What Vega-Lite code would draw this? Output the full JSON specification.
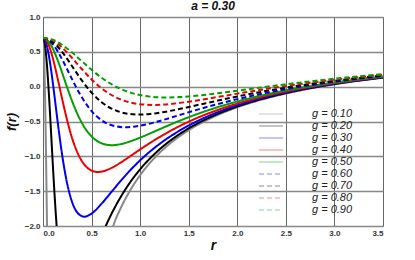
{
"$schema":"https://vega.github.io/schema/vega-lite/v6.json",
"width":340,"height":209,
"autosize":{"type":"none"},
"padding":{"left":43,"top":17,"right":32,"bottom":34},
"background":"white",
"title":{"text":"a  = 0.30","fontSize":12,"fontStyle":"italic","fontWeight":"bold","font":"Liberation Sans","offset":0,"frame":"group","color":"#111"},
"config":{"view":{"stroke":"#999","strokeWidth":1},"font":"Liberation Sans"},
"data":{"values":[
{"g":"g = 0.10","r":0,"f":0.7},{"g":"g = 0.10","r":0.0025,"f":0.6875},{"g":"g = 0.10","r":0.005,"f":0.65},{"g":"g = 0.10","r":0.01,"f":0.503},{"g":"g = 0.10","r":0.02,"f":-0.054},{"g":"g = 0.10","r":0.03,"f":-0.882},{"g":"g = 0.10","r":0.04,"f":-1.861},{"g":"g = 0.10","r":0.05,"f":-2.878},{"g":"g = 0.10","r":0.7,"f":-2.072},{"g":"g = 0.10","r":0.75,"f":-1.897},{"g":"g = 0.10","r":0.8,"f":-1.743},{"g":"g = 0.10","r":0.9,"f":-1.482},{"g":"g = 0.10","r":1.0,"f":-1.27},{"g":"g = 0.10","r":1.2,"f":-0.949},{"g":"g = 0.10","r":1.4,"f":-0.718},{"g":"g = 0.10","r":1.6,"f":-0.543},{"g":"g = 0.10","r":1.8,"f":-0.406},{"g":"g = 0.10","r":2.0,"f":-0.296},{"g":"g = 0.10","r":2.25,"f":-0.186},{"g":"g = 0.10","r":2.5,"f":-0.098},{"g":"g = 0.10","r":3.0,"f":0.034},{"g":"g = 0.10","r":3.5,"f":0.129},
{"g":"g = 0.20","r":0,"f":0.7},{"g":"g = 0.20","r":0.01,"f":0.675},{"g":"g = 0.20","r":0.02,"f":0.601},{"g":"g = 0.20","r":0.04,"f":0.323},{"g":"g = 0.20","r":0.06,"f":-0.091},{"g":"g = 0.20","r":0.08,"f":-0.581},{"g":"g = 0.20","r":0.1,"f":-1.089},{"g":"g = 0.20","r":0.12,"f":-1.57},{"g":"g = 0.20","r":0.14,"f":-1.994},{"g":"g = 0.20","r":0.16,"f":-2.347},{"g":"g = 0.20","r":0.6,"f":-2.146},{"g":"g = 0.20","r":0.65,"f":-1.987},{"g":"g = 0.20","r":0.7,"f":-1.84},{"g":"g = 0.20","r":0.8,"f":-1.583},{"g":"g = 0.20","r":0.9,"f":-1.367},{"g":"g = 0.20","r":1.0,"f":-1.186},{"g":"g = 0.20","r":1.2,"f":-0.9},{"g":"g = 0.20","r":1.4,"f":-0.686},{"g":"g = 0.20","r":1.6,"f":-0.521},{"g":"g = 0.20","r":1.8,"f":-0.391},{"g":"g = 0.20","r":2.0,"f":-0.285},{"g":"g = 0.20","r":2.25,"f":-0.178},{"g":"g = 0.20","r":2.5,"f":-0.092},{"g":"g = 0.20","r":3.0,"f":0.038},{"g":"g = 0.20","r":3.5,"f":0.131},
{"g":"g = 0.30","r":0,"f":0.7},{"g":"g = 0.30","r":0.02,"f":0.671},{"g":"g = 0.30","r":0.04,"f":0.585},{"g":"g = 0.30","r":0.06,"f":0.449},{"g":"g = 0.30","r":0.08,"f":0.272},{"g":"g = 0.30","r":0.1,"f":0.068},{"g":"g = 0.30","r":0.125,"f":-0.21},{"g":"g = 0.30","r":0.15,"f":-0.493},{"g":"g = 0.30","r":0.2,"f":-1.007},{"g":"g = 0.30","r":0.25,"f":-1.399},{"g":"g = 0.30","r":0.3,"f":-1.657},{"g":"g = 0.30","r":0.35,"f":-1.801},{"g":"g = 0.30","r":0.424,"f":-1.866},{"g":"g = 0.30","r":0.5,"f":-1.822},{"g":"g = 0.30","r":0.6,"f":-1.685},{"g":"g = 0.30","r":0.7,"f":-1.519},{"g":"g = 0.30","r":0.8,"f":-1.352},{"g":"g = 0.30","r":0.9,"f":-1.197},{"g":"g = 0.30","r":1.0,"f":-1.057},{"g":"g = 0.30","r":1.2,"f":-0.822},{"g":"g = 0.30","r":1.4,"f":-0.636},{"g":"g = 0.30","r":1.6,"f":-0.487},{"g":"g = 0.30","r":1.8,"f":-0.366},{"g":"g = 0.30","r":2.0,"f":-0.267},{"g":"g = 0.30","r":2.25,"f":-0.166},{"g":"g = 0.30","r":2.5,"f":-0.083},{"g":"g = 0.30","r":3.0,"f":0.043},{"g":"g = 0.30","r":3.5,"f":0.135},
{"g":"g = 0.40","r":0,"f":0.7},{"g":"g = 0.40","r":0.025,"f":0.681},{"g":"g = 0.40","r":0.05,"f":0.624},{"g":"g = 0.40","r":0.075,"f":0.533},{"g":"g = 0.40","r":0.1,"f":0.415},{"g":"g = 0.40","r":0.15,"f":0.123},{"g":"g = 0.40","r":0.2,"f":-0.194},{"g":"g = 0.40","r":0.25,"f":-0.491},{"g":"g = 0.40","r":0.3,"f":-0.74},{"g":"g = 0.40","r":0.35,"f":-0.932},{"g":"g = 0.40","r":0.4,"f":-1.068},{"g":"g = 0.40","r":0.45,"f":-1.155},{"g":"g = 0.40","r":0.5,"f":-1.205},{"g":"g = 0.40","r":0.566,"f":-1.225},{"g":"g = 0.40","r":0.6,"f":-1.22},{"g":"g = 0.40","r":0.7,"f":-1.17},{"g":"g = 0.40","r":0.8,"f":-1.089},{"g":"g = 0.40","r":0.9,"f":-0.996},{"g":"g = 0.40","r":1.0,"f":-0.901},{"g":"g = 0.40","r":1.2,"f":-0.723},{"g":"g = 0.40","r":1.4,"f":-0.57},{"g":"g = 0.40","r":1.6,"f":-0.441},{"g":"g = 0.40","r":1.8,"f":-0.334},{"g":"g = 0.40","r":2.0,"f":-0.243},{"g":"g = 0.40","r":2.25,"f":-0.148},{"g":"g = 0.40","r":2.5,"f":-0.07},{"g":"g = 0.40","r":3.0,"f":0.051},{"g":"g = 0.40","r":3.5,"f":0.14},
{"g":"g = 0.50","r":0,"f":0.7},{"g":"g = 0.50","r":0.05,"f":0.661},{"g":"g = 0.50","r":0.1,"f":0.549},{"g":"g = 0.50","r":0.15,"f":0.384},{"g":"g = 0.50","r":0.2,"f":0.188},{"g":"g = 0.50","r":0.25,"f":-0.016},{"g":"g = 0.50","r":0.3,"f":-0.208},{"g":"g = 0.50","r":0.35,"f":-0.378},{"g":"g = 0.50","r":0.4,"f":-0.519},{"g":"g = 0.50","r":0.45,"f":-0.631},{"g":"g = 0.50","r":0.5,"f":-0.714},{"g":"g = 0.50","r":0.6,"f":-0.811},{"g":"g = 0.50","r":0.707,"f":-0.84},{"g":"g = 0.50","r":0.8,"f":-0.825},{"g":"g = 0.50","r":0.9,"f":-0.784},{"g":"g = 0.50","r":1.0,"f":-0.731},{"g":"g = 0.50","r":1.2,"f":-0.611},{"g":"g = 0.50","r":1.4,"f":-0.493},{"g":"g = 0.50","r":1.6,"f":-0.387},{"g":"g = 0.50","r":1.8,"f":-0.294},{"g":"g = 0.50","r":2.0,"f":-0.213},{"g":"g = 0.50","r":2.25,"f":-0.127},{"g":"g = 0.50","r":2.5,"f":-0.054},{"g":"g = 0.50","r":3.0,"f":0.06},{"g":"g = 0.50","r":3.5,"f":0.146},
{"g":"g = 0.60","r":0,"f":0.7},{"g":"g = 0.60","r":0.05,"f":0.677},{"g":"g = 0.60","r":0.1,"f":0.611},{"g":"g = 0.60","r":0.15,"f":0.51},{"g":"g = 0.60","r":0.2,"f":0.384},{"g":"g = 0.60","r":0.25,"f":0.245},{"g":"g = 0.60","r":0.3,"f":0.104},{"g":"g = 0.60","r":0.35,"f":-0.031},{"g":"g = 0.60","r":0.4,"f":-0.153},{"g":"g = 0.60","r":0.5,"f":-0.35},{"g":"g = 0.60","r":0.6,"f":-0.479},{"g":"g = 0.60","r":0.7,"f":-0.551},{"g":"g = 0.60","r":0.849,"f":-0.583},{"g":"g = 0.60","r":1.0,"f":-0.561},{"g":"g = 0.60","r":1.2,"f":-0.493},{"g":"g = 0.60","r":1.4,"f":-0.409},{"g":"g = 0.60","r":1.6,"f":-0.326},{"g":"g = 0.60","r":1.8,"f":-0.249},{"g":"g = 0.60","r":2.0,"f":-0.179},{"g":"g = 0.60","r":2.25,"f":-0.102},{"g":"g = 0.60","r":2.5,"f":-0.036},{"g":"g = 0.60","r":3.0,"f":0.071},{"g":"g = 0.60","r":3.5,"f":0.153},
{"g":"g = 0.70","r":0,"f":0.7},{"g":"g = 0.70","r":0.1,"f":0.643},{"g":"g = 0.70","r":0.2,"f":0.493},{"g":"g = 0.70","r":0.3,"f":0.293},{"g":"g = 0.70","r":0.4,"f":0.089},{"g":"g = 0.70","r":0.5,"f":-0.085},{"g":"g = 0.70","r":0.6,"f":-0.219},{"g":"g = 0.70","r":0.7,"f":-0.31},{"g":"g = 0.70","r":0.8,"f":-0.366},{"g":"g = 0.70","r":0.9,"f":-0.393},{"g":"g = 0.70","r":0.99,"f":-0.4},{"g":"g = 0.70","r":1.1,"f":-0.392},{"g":"g = 0.70","r":1.2,"f":-0.374},{"g":"g = 0.70","r":1.4,"f":-0.322},{"g":"g = 0.70","r":1.6,"f":-0.261},{"g":"g = 0.70","r":1.8,"f":-0.2},{"g":"g = 0.70","r":2.0,"f":-0.141},{"g":"g = 0.70","r":2.25,"f":-0.074},{"g":"g = 0.70","r":2.5,"f":-0.014},{"g":"g = 0.70","r":3.0,"f":0.084},{"g":"g = 0.70","r":3.5,"f":0.161},
{"g":"g = 0.80","r":0,"f":0.7},{"g":"g = 0.80","r":0.1,"f":0.662},{"g":"g = 0.80","r":0.2,"f":0.557},{"g":"g = 0.80","r":0.3,"f":0.411},{"g":"g = 0.80","r":0.4,"f":0.253},{"g":"g = 0.80","r":0.5,"f":0.104},{"g":"g = 0.80","r":0.6,"f":-0.02},{"g":"g = 0.80","r":0.7,"f":-0.116},{"g":"g = 0.80","r":0.8,"f":-0.184},{"g":"g = 0.80","r":0.9,"f":-0.228},{"g":"g = 0.80","r":1.0,"f":-0.252},{"g":"g = 0.80","r":1.131,"f":-0.262},{"g":"g = 0.80","r":1.25,"f":-0.256},{"g":"g = 0.80","r":1.4,"f":-0.235},{"g":"g = 0.80","r":1.6,"f":-0.194},{"g":"g = 0.80","r":1.8,"f":-0.148},{"g":"g = 0.80","r":2.0,"f":-0.1},{"g":"g = 0.80","r":2.25,"f":-0.044},{"g":"g = 0.80","r":2.5,"f":0.009},{"g":"g = 0.80","r":3.0,"f":0.099},{"g":"g = 0.80","r":3.5,"f":0.171},
{"g":"g = 0.90","r":0,"f":0.7},{"g":"g = 0.90","r":0.1,"f":0.673},{"g":"g = 0.90","r":0.2,"f":0.598},{"g":"g = 0.90","r":0.3,"f":0.489},{"g":"g = 0.90","r":0.4,"f":0.365},{"g":"g = 0.90","r":0.5,"f":0.242},{"g":"g = 0.90","r":0.6,"f":0.131},{"g":"g = 0.90","r":0.7,"f":0.039},{"g":"g = 0.90","r":0.8,"f":-0.033},{"g":"g = 0.90","r":0.9,"f":-0.086},{"g":"g = 0.90","r":1.0,"f":-0.121},{"g":"g = 0.90","r":1.1,"f":-0.143},{"g":"g = 0.90","r":1.273,"f":-0.155},{"g":"g = 0.90","r":1.4,"f":-0.15},{"g":"g = 0.90","r":1.6,"f":-0.128},{"g":"g = 0.90","r":1.8,"f":-0.095},{"g":"g = 0.90","r":2.0,"f":-0.058},{"g":"g = 0.90","r":2.25,"f":-0.011},{"g":"g = 0.90","r":2.5,"f":0.034},{"g":"g = 0.90","r":3.0,"f":0.114},{"g":"g = 0.90","r":3.5,"f":0.181}
]},
"mark":{"type":"line","interpolate":"monotone","strokeWidth":2,"clip":true},
"encoding":{
"x":{"field":"r","type":"quantitative","scale":{"domain":[0,3.5],"nice":false,"zero":false},
 "axis":{"values":[0,0.5,1,1.5,2,2.5,3,3.5],"format":".1f","title":"r","titleFontSize":14,"titleFontStyle":"italic","titleFontWeight":"bold","titleColor":"#111","titlePadding":1,
 "labelFontSize":8,"labelFontWeight":"bold","labelColor":"#333","labelPadding":3,"ticks":false,"domain":false,
 "grid":true,"gridColor":"#666","gridWidth":1}},
"y":{"field":"f","type":"quantitative","scale":{"domain":[-2,1],"nice":false,"zero":false},
 "axis":{"values":[-2,-1.5,-1,-0.5,0,0.5,1],"format":".1f","title":"f(r)","titleFontSize":13,"titleFontStyle":"italic","titleFontWeight":"bold","titleColor":"#111","titlePadding":6,
 "labelFontSize":8,"labelFontWeight":"bold","labelColor":"#333","labelPadding":3,"ticks":false,"domain":false,
 "grid":true,"gridColor":"#888","gridWidth":1.3}},
"color":{"field":"g","type":"nominal",
 "scale":{"domain":["g = 0.10","g = 0.20","g = 0.30","g = 0.40","g = 0.50","g = 0.60","g = 0.70","g = 0.80","g = 0.90"],
  "range":["#888888","#000000","#0000ee","#ee0000","#00a000","#0000ee","#000000","#ee0000","#00a000"]},
 "legend":{"orient":"none","legendX":221,"legendY":90,"title":null,"symbolType":"M-2,0H2","symbolSize":144,"symbolStrokeWidth":1.5,"symbolOpacity":0.3,"labelFont":"Liberation Sans","labelFontStyle":"italic","labelFontSize":11,"labelColor":"#222","labelOffset":34,"rowPadding":0,"padding":0}},
"strokeDash":{"field":"g","type":"nominal",
 "scale":{"domain":["g = 0.10","g = 0.20","g = 0.30","g = 0.40","g = 0.50","g = 0.60","g = 0.70","g = 0.80","g = 0.90"],
  "range":[[1,0],[1,0],[1,0],[1,0],[1,0],[5,3],[5,3],[5,3],[5,3]]},
 "legend":{"orient":"none","legendX":221,"legendY":90,"title":null,"symbolType":"M-2,0H2","symbolSize":144,"symbolStrokeWidth":1.5,"symbolOpacity":0.3,"labelFont":"Liberation Sans","labelFontStyle":"italic","labelFontSize":11,"labelColor":"#222","labelOffset":34,"rowPadding":0,"padding":0}}
}
}
